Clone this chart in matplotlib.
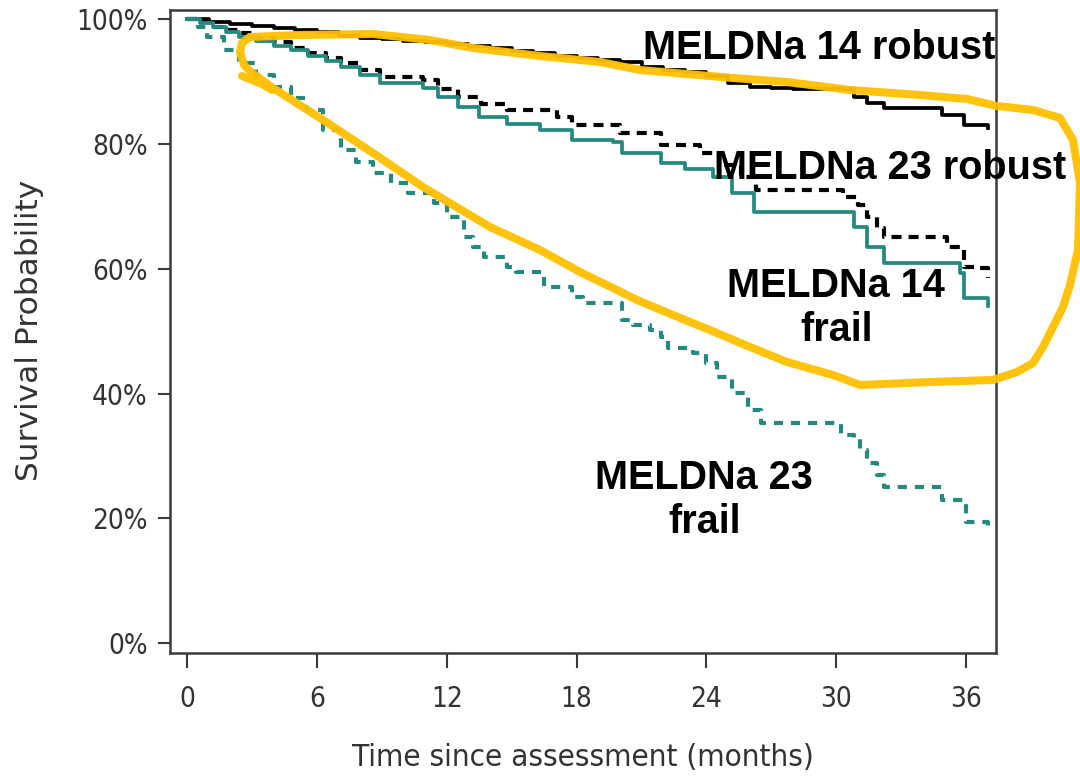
import matplotlib
matplotlib.use("Agg")
import matplotlib.pyplot as plt
from matplotlib import font_manager
from matplotlib.lines import Line2D

# ---------------- data ----------------
t_14_robust = [0, 1, 2, 3, 4, 5, 6, 7, 8, 9, 10, 11, 12, 13, 14, 15, 16, 17, 18, 19,
               20, 21, 22, 23, 24, 25, 26, 27, 28, 29, 30.8, 31.4, 32.2, 34.9, 35.9, 37.0]
s_14_robust = [100, 99.6, 99.2, 98.9, 98.6, 98.3, 97.9, 97.3, 97.0, 96.8, 96.6, 96.3, 96.0,
               95.7, 95.4, 95.0, 94.6, 94.2, 93.8, 93.5, 93.2, 92.4, 91.9, 91.5, 90.9, 89.8,
               89.2, 89.0, 88.9, 88.8, 87.6, 86.6, 85.8, 84.7, 83.1, 82.6]

t_23_robust = [0, 0.6, 1.2, 1.8, 2.4, 3.2, 4.0, 4.8, 5.6, 6.4, 7.1, 8.0, 8.9, 10.9, 11.6, 12.5,
               13.6, 14.8, 17.1, 17.8, 20.0, 21.9, 23.7, 24.6, 25.6, 26.3, 29.9, 30.3, 31.0,
               31.4, 31.9, 32.2, 34.8, 35.1, 35.9, 36.6, 37.0]
s_23_robust = [100, 99.5, 98.8, 98.3, 97.8, 97.0, 96.3, 95.4, 94.6, 93.8, 93.0, 91.9, 90.8, 90.3,
               88.9, 87.6, 86.5, 85.5, 84.4, 83.1, 81.8, 79.9, 78.6, 76.6, 74.7, 72.7, 72.7, 71.5,
               70.2, 68.3, 66.6, 65.1, 65.1, 63.5, 60.3, 60.1, 58.5]

t_14_frail = [0, 0.6, 1.2, 1.8, 2.4, 3.2, 4.0, 4.8, 5.6, 6.4, 7.1, 8.0, 8.9, 10.9, 11.6, 12.5,
              13.5, 14.8, 16.3, 17.8, 19.7, 20.1, 21.9, 23.0, 24.3, 25.2, 26.2, 29.9, 30.8, 31.4,
              32.2, 35.1, 35.7, 35.9, 37.0]
s_14_frail = [100, 99.4, 98.7, 97.9, 97.2, 96.5, 95.8, 95.1, 94.2, 93.3, 92.4, 91.0, 89.8, 89.0,
              87.5, 86.0, 84.4, 83.3, 82.3, 80.7, 80.4, 78.6, 77.0, 76.0, 74.7, 72.2, 69.1, 69.1,
              66.7, 63.5, 60.9, 60.9, 59.3, 55.3, 54.0]

t_23_frail = [0, 0.5, 0.9, 1.7, 2.4, 3.2, 4.0, 4.8, 5.5, 6.3, 7.1, 7.8, 8.6, 9.4, 10.2, 11.4,
              12.0, 12.8, 13.2, 13.7, 14.8, 15.2, 16.5, 17.8, 18.3, 19.5, 20.1, 20.6, 21.4, 21.9,
              22.2, 23.4, 24.0, 24.5, 25.2, 25.9, 26.5, 29.9, 30.2, 30.8, 31.1, 31.4, 31.9, 32.2,
              34.7, 34.9, 35.9, 36.0, 37.0]
s_23_frail = [100, 98.8, 97.2, 95.1, 93.0, 91.0, 89.2, 87.4, 85.5, 82.3, 79.1, 77.2, 75.4, 73.8,
              72.2, 70.6, 68.3, 65.1, 63.5, 61.9, 60.3, 59.5, 57.1, 55.5, 54.5, 54.5, 51.8, 51.0,
              50.2, 49.1, 47.3, 46.5, 44.9, 42.7, 40.1, 37.4, 35.3, 35.3, 33.4, 32.9, 31.0, 28.9,
              26.9, 25.0, 25.0, 22.9, 22.6, 19.4, 17.6]

x_ticks = [0, 6, 12, 18, 24, 30, 36]
y_ticks = [0, 20, 40, 60, 80, 100]
y_tick_labels = ["0%", "20%", "40%", "60%", "80%", "100%"]

label_14_robust = "MELDNa 14 robust"
label_23_robust = "MELDNa 23 robust"
label_14_frail = "MELDNa 14\nfrail"
label_23_frail = "MELDNa 23\nfrail"
x_label = "Time since assessment (months)"
y_label = "Survival Probability"

# ---------------- fonts ----------------
names = {f.name for f in font_manager.fontManager.ttflist}
if "Liberation Sans Narrow" in names:
    narrow_font = dict(family="Liberation Sans Narrow")
else:
    narrow_font = dict(family="DejaVu Sans", stretch="condensed")
bold_family = "Liberation Sans" if "Liberation Sans" in names else "DejaVu Sans"

# ---------------- figure ----------------
W, H = 1080, 776
fig = plt.figure(figsize=(W / 100, H / 100), dpi=100)
ax = fig.add_axes([170 / W, 1 - 653 / H, (996 - 170) / W, (653 - 10) / H])

teal = "#25897f"
ax.step(t_14_robust, s_14_robust, where="post", color="black", lw=2.7)
ax.step(t_23_robust, s_23_robust, where="post", color="black", lw=3.0,
        linestyle=(0, (2.4, 1.7)))
ax.step(t_14_frail, s_14_frail, where="post", color=teal, lw=2.7)
ax.step(t_23_frail, s_23_frail, where="post", color=teal, lw=3.0,
        linestyle=(0, (2.2, 1.9)))

ax.set_xlim(-0.79, 37.38)
ax.set_ylim(-1.6, 101.5)
ax.set_xticks(x_ticks)
ax.set_yticks(y_ticks)
ax.set_yticklabels(y_tick_labels)

for sp in ax.spines.values():
    sp.set_color("#3a3a3a")
    sp.set_linewidth(1.8)
ax.tick_params(axis="both", direction="out", width=1.5, color="#3a3a3a",
               labelcolor="#333333", labelsize=20)
ax.tick_params(axis="x", length=11, pad=12)
ax.tick_params(axis="y", length=9, pad=7)
for lab in ax.get_xticklabels() + ax.get_yticklabels():
    lab.set(**narrow_font)

ax.set_xlabel(x_label, fontsize=22.5, color="#333333", va="top", **narrow_font)
ax.xaxis.set_label_coords(0.5, (653 - 743) / 643)
ax.set_ylabel(y_label, fontsize=22.5, color="#333333", family="DejaVu Sans")
ax.yaxis.set_label_coords((44 - 170) / 826, (653 - 330) / 643)

txt = dict(fontsize=28.5, fontweight="bold", family=bold_family, ha="center", va="center",
           color="black", linespacing=1.2)
ax.text(29.2, 95.4, label_14_robust, **txt)
ax.text(32.5, 76.2, label_23_robust, **txt)
ax.text(30.0, 53.7, label_14_frail, **txt)
ax.text(23.9, 22.9, label_23_frail, **txt)

# hand-drawn yellow highlight loop (figure pixel coordinates)
loop_px = [(250, 37), (300, 35), (373, 34), (430, 40), (473, 48), (540, 56), (600, 62),
           (640, 70), (733, 78), (787, 82), (850, 90), (920, 95), (967, 99), (997, 106),
           (1033, 110), (1060, 118), (1073, 140), (1080, 183), (1078, 250), (1070, 285),
           (1063, 307), (1053, 327), (1043, 347), (1033, 363), (1017, 372), (993, 380),
           (930, 382), (860, 385), (833, 375), (787, 362), (750, 347), (717, 333), (673, 315),
           (637, 300), (623, 293), (580, 272), (540, 250), (490, 227), (423, 187), (373, 153),
           (320, 118), (273, 88), (262, 80), (252, 73), (244, 65), (240, 52), (242, 43),
           (250, 37)]
tail_px = [(242, 76), (262, 84), (272, 90)]
for pts in (loop_px, tail_px):
    xs = [p[0] / W for p in pts]
    ys = [1 - p[1] / H for p in pts]
    fig.add_artist(Line2D(xs, ys, transform=fig.transFigure, color="#FFBF00", lw=5.8,
                          solid_capstyle="round", solid_joinstyle="round", alpha=0.95,
                          zorder=10))

fig.savefig("out.png", dpi=100, facecolor="white")
